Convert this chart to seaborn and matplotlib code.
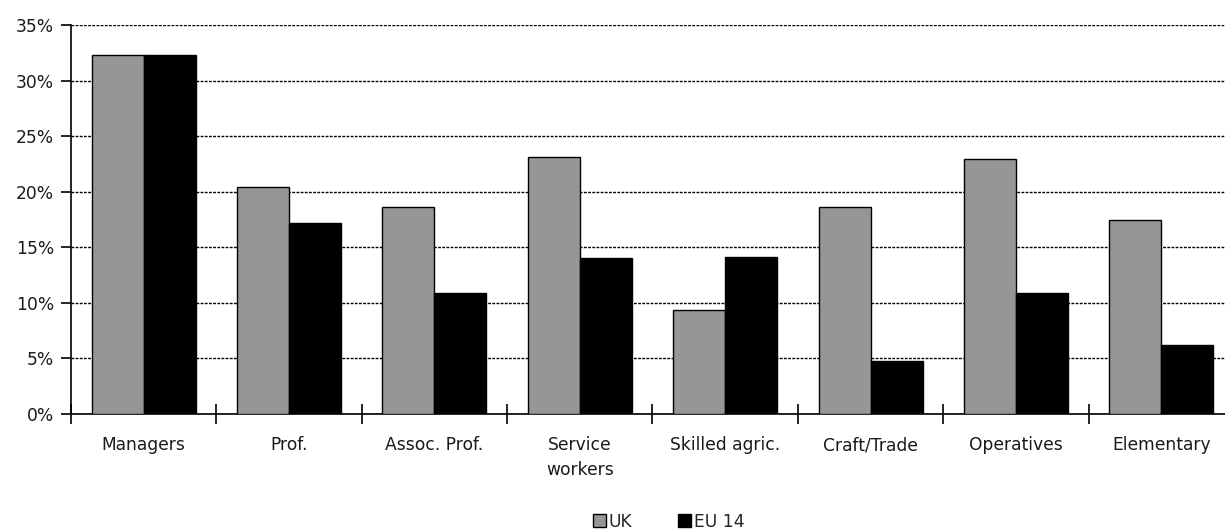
import numpy as np
import pandas as pd
import matplotlib
matplotlib.use("Agg")
import matplotlib.pyplot as plt
from matplotlib.patches import Patch
from matplotlib.ticker import PercentFormatter
import seaborn as sns

categories = ["Managers", "Prof.", "Assoc. Prof.", "Service\nworkers",
              "Skilled agric.", "Craft/Trade", "Operatives", "Elementary"]
uk_values = [32.3, 20.4, 18.6, 23.1, 9.4, 18.6, 22.9, 17.5]
eu14_values = [32.3, 17.2, 10.9, 14.0, 14.1, 4.8, 10.9, 6.2]
series_names = ["UK", "EU 14"]
y_ticks = [0, 5, 10, 15, 20, 25, 30, 35]

df = pd.DataFrame({
    "category": categories * 2,
    "share": uk_values + eu14_values,
    "series": [series_names[0]] * len(categories) + [series_names[1]] * len(categories),
})

sns.set_style("white")
plt.rcParams["font.family"] = ["DejaVu Sans"]

fig = plt.figure(figsize=(12.25, 5.3), dpi=100)
ax = fig.add_axes([71 / 1225, 116 / 530, (1234 - 71) / 1225, (414 - 25) / 530])

colors = ["#969696", "#000000"]
sns.barplot(data=df, x="category", y="share", hue="series", order=categories,
            hue_order=series_names, palette=colors, width=0.715,
            edgecolor="black", linewidth=1.0, saturation=1, ax=ax, legend=False,
            zorder=3)

ax.set_xlim(-0.5, len(categories) - 0.5)
ax.set_ylim(0, 35)
ax.set_yticks(y_ticks)
ax.yaxis.set_major_formatter(PercentFormatter(decimals=0))
ax.grid(axis="y", color="black", linestyle=(0, (2, 1)), linewidth=1.0, zorder=0)
ax.set_axisbelow(True)

for side in ["top", "right"]:
    ax.spines[side].set_visible(False)
for side in ["left", "bottom"]:
    ax.spines[side].set_color("black")
    ax.spines[side].set_linewidth(1.2)

ax.set_xlabel("")
ax.set_ylabel("")

# category labels at centers, tick marks at the category boundaries
ax.set_xticks(np.arange(len(categories)))
ax.set_xticklabels(categories, fontsize=12.3, color="#1a1a1a", linespacing=1.5)
ax.tick_params(axis="x", which="major", length=0, pad=16)
ax.set_xticks(np.arange(-0.5, len(categories), 1), minor=True)
ax.tick_params(axis="x", which="minor", direction="inout", length=15, width=1.2,
               color="black", bottom=True)
ax.tick_params(axis="y", direction="out", length=7, width=1.2, color="black",
               left=True, labelsize=12.3, labelcolor="#1a1a1a", pad=5)

handles = [Patch(facecolor=c, edgecolor="black", linewidth=1.0) for c in colors]
fig.legend(handles, series_names, loc="center", bbox_to_anchor=(0.546, 0.016),
           ncol=2, frameon=False, fontsize=12.3, handlelength=0.75,
           handleheight=0.75, handletextpad=0.15, columnspacing=2.7)

fig.savefig("out.png", dpi=100)
